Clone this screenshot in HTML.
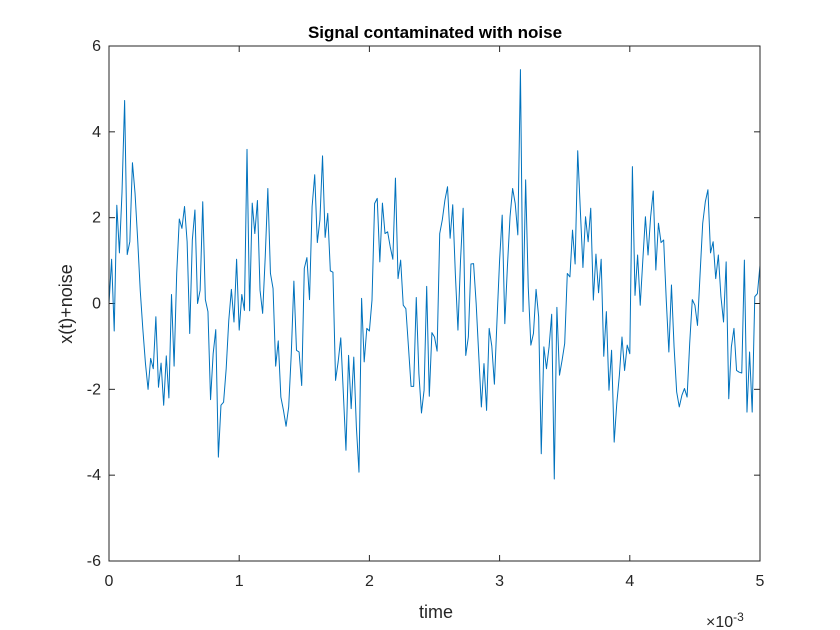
<!DOCTYPE html>
<html><head><meta charset="utf-8"><style>
body{margin:0;background:#fff;}
svg{display:block;font-family:"Liberation Sans",Arial,sans-serif;}
</style></head><body>
<svg id="chart" width="840" height="630" viewBox="0 0 840 630">
<rect width="840" height="630" fill="#fff"/>
<text x="435" y="38" text-anchor="middle" font-size="17" font-weight="bold" fill="#000">Signal contaminated with noise</text>
<text x="436" y="618" text-anchor="middle" font-size="18" fill="#262626">time</text>
<text transform="translate(72,304) rotate(-90)" text-anchor="middle" font-size="18" fill="#262626">x(t)+noise</text>
<text x="706" y="627" font-size="16" fill="#262626">×10<tspan dy="-6" font-size="12">-3</tspan></text>
<g id="ticks"></g>
<path id="signal" fill="none" stroke="#0072BD" stroke-width="1" stroke-linejoin="round"/>
<rect x="109" y="46" width="651" height="515" fill="none" stroke="#262626" stroke-width="1"/>
</svg>
<script>
const xTicks = [0, 1, 2, 3, 4, 5];
const yTicks = [-6, -4, -2, 0, 2, 4, 6];
const dt = 0.02; // ms between samples (50 kHz)
const signalValues = [
0.0,1.03,-0.64,2.29,1.18,2.6,4.73,1.14,1.44,3.28,2.57,1.5,0.3,-0.6,-1.4,-2.0,-1.28,-1.52,-0.31,-1.95,
-1.39,-2.37,-1.22,-2.2,0.21,-1.46,0.70,1.97,1.75,2.26,1.44,-0.70,1.48,2.18,0,0.31,2.37,0.09,-0.19,-2.24,
-1.17,-0.61,-3.58,-2.37,-2.30,-1.52,-0.39,0.33,-0.43,1.03,-0.62,0.21,-0.16,3.59,-0.17,2.34,1.63,2.40,0.31,-0.23,
1.09,2.68,0.70,0.35,-1.46,-0.87,-2.18,-2.49,-2.86,-2.41,-1.17,0.52,-1.09,-1.13,-1.91,0.82,1.07,0.09,2.26,3.00,
1.42,1.95,3.44,1.54,2.10,0.76,0.73,-1.79,-1.36,-0.80,-2.10,-3.42,-1.21,-2.45,-1.25,-2.88,-3.93,0.12,-1.36,-0.58,
-0.64,0.08,2.33,2.45,0.97,2.34,1.63,1.67,1.32,1.03,2.92,0.58,1.01,-0.04,-0.12,-1.01,-1.93,-1.93,0.14,-1.63,
-2.55,-2.02,0.40,-2.16,-0.68,-0.78,-1.11,1.63,1.95,2.41,2.72,1.52,2.30,0.70,-0.62,1.01,2.22,-1.21,-0.78,0.92,
0.93,0.00,-1.21,-2.41,-1.40,-2.49,-0.58,-0.99,-1.88,-0.39,1.01,2.06,-0.47,0.86,2.02,2.68,2.33,1.60,5.45,-0.19,
2.88,0.39,-0.97,-0.70,0.33,-0.31,-3.50,-1.01,-1.52,-1.01,-0.25,-4.09,-0.09,-1.67,-1.32,-0.93,0.70,0.62,1.71,0.92,
3.56,2.18,0.84,2.02,1.44,2.22,0.08,1.15,0.25,1.03,-1.23,-0.19,-2.02,-1.09,-3.23,-2.33,-1.67,-0.78,-1.56,-0.97,
-1.17,3.19,0.19,1.13,-0.04,1.01,2.02,1.13,2.02,2.62,0.78,1.87,1.42,1.48,0.08,-1.13,0.43,-1.01,-2.06,-2.41,
-2.14,-1.98,-2.18,-0.93,0.09,-0.04,-0.51,0.70,1.87,2.37,2.65,1.18,1.44,0.58,1.13,0.16,-0.43,0.97,-2.22,-1.01,
-0.58,-1.56,-1.60,-1.62,1.01,-2.53,-1.13,-2.53,0.16,0.23,0.89
];
const X0=109, X1=760, Y0=561, Y1=46;
const xMin=0, xMax=5, yMin=-6, yMax=6;
function sx(v){return X0+(v-xMin)/(xMax-xMin)*(X1-X0);}
function sy(v){return Y0-(v-yMin)/(yMax-yMin)*(Y0-Y1);}
const NS='http://www.w3.org/2000/svg';
const g=document.getElementById('ticks');
xTicks.forEach(t=>{
  const x=sx(t);
  [[Y0,Y0-6],[Y1,Y1+6]].forEach(([a,b])=>{
    const l=document.createElementNS(NS,'line');
    l.setAttribute('x1',x);l.setAttribute('x2',x);l.setAttribute('y1',a);l.setAttribute('y2',b);
    l.setAttribute('stroke','#262626');
    
    
    g.appendChild(l);
  });
  const tx=document.createElementNS(NS,'text');
  tx.setAttribute('x',x);tx.setAttribute('y',586);tx.setAttribute('text-anchor','middle');
  tx.setAttribute('font-size','16');tx.setAttribute('fill','#262626');
  tx.textContent=String(t);
  
  
  g.appendChild(tx);
});
yTicks.forEach(t=>{
  const y=sy(t);
  [[X0,X0+6],[X1,X1-6]].forEach(([a,b])=>{
    const l=document.createElementNS(NS,'line');
    l.setAttribute('x1',a);l.setAttribute('x2',b);l.setAttribute('y1',y);l.setAttribute('y2',y);
    l.setAttribute('stroke','#262626');
    
    
    g.appendChild(l);
  });
  const tx=document.createElementNS(NS,'text');
  tx.setAttribute('x',101);tx.setAttribute('y',y+5);tx.setAttribute('text-anchor','end');
  tx.setAttribute('font-size','16');tx.setAttribute('fill','#262626');
  tx.textContent=String(t);
  
  
  g.appendChild(tx);
});
let d='';
signalValues.forEach((v,i)=>{
  d+=(i?'L':'M')+sx(i*dt).toFixed(2)+' '+sy(v).toFixed(2);
});
document.getElementById('signal').setAttribute('d',d);
</script>
</body></html>
